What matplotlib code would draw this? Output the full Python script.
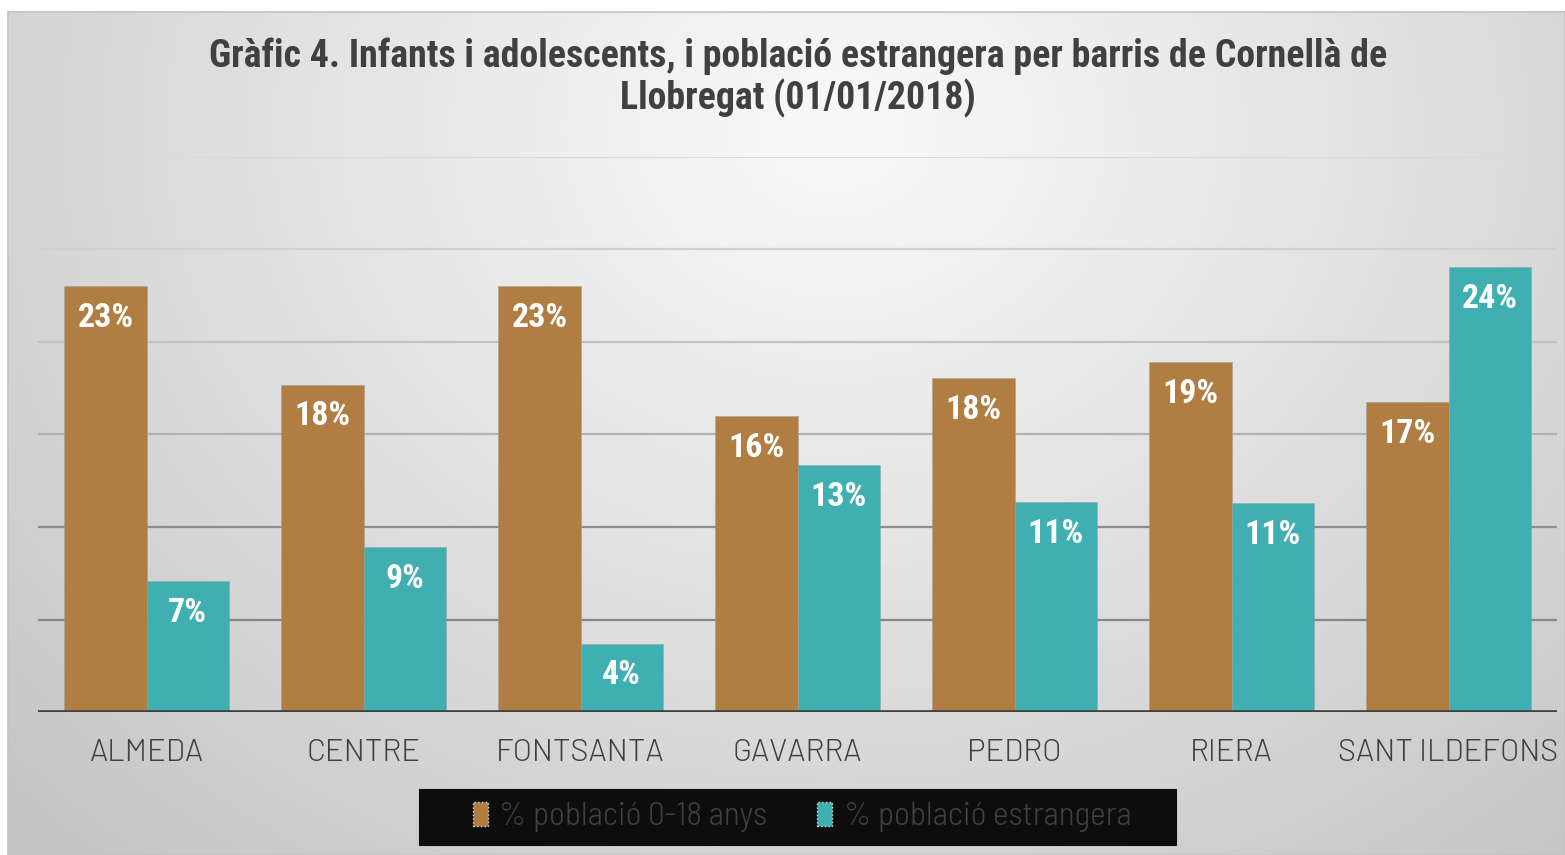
import numpy as np
import matplotlib
matplotlib.use("Agg")
import matplotlib.pyplot as plt
from matplotlib.patches import Rectangle

categories = ["ALMEDA", "CENTRE", "FONTSANTA", "GAVARRA", "PEDRO", "RIERA", "SANT ILDEFONS"]
pct_0_18 = [23.0, 17.7, 23.0, 16.0, 18.05, 18.9, 16.75]
pct_estrangera = [7.1, 8.9, 3.7, 13.35, 11.35, 11.3, 24.05]
labels_0_18 = ["23%", "18%", "23%", "16%", "18%", "19%", "17%"]
labels_estr = ["7%", "9%", "4%", "13%", "11%", "11%", "24%"]
series_names = ["% població 0-18 anys", "% població estrangera"]
title = "Gràfic 4. Infants i adolescents, i població estrangera per barris de Cornellà de\nLlobregat (01/01/2018)"

FONT_B = ["Roboto Condensed", "Archivo Narrow", "PT Sans Narrow", "DejaVu Sans"]
FONT_T = ["Barlow", "Barlow Semi Condensed", "Roboto Condensed", "DejaVu Sans"]
FONT_L = ["Barlow Semi Condensed", "Barlow", "Roboto Condensed", "DejaVu Sans"]
C_OR = "#B07E42"
C_TE = "#3FAFB1"
W, H = 1565, 855

fig = plt.figure(figsize=(W / 100, H / 100), dpi=100)
fig.patch.set_facecolor("white")

# background radial gradient panel
bg = fig.add_axes([0, 0, 1, 1], zorder=-5)
bg.set_xlim(0, W)
bg.set_ylim(H, 0)
bg.axis("off")
yy, xx = np.mgrid[0:H, 0:W]
cx, cy = 830, 120
r = np.sqrt(((xx - cx) / 1.0) ** 2 + ((yy - cy) / 0.85) ** 2)
r = r / r.max()
val = 0.975 - 0.20 * np.clip(r / 0.95, 0, 1) ** 1.1
img = np.dstack([val, val, val])
bg.imshow(img, extent=(8, W, H, 12), aspect="auto", interpolation="bilinear")
bg.add_patch(Rectangle((8, 12), W - 8, H - 12, fill=False, ec="#c4c4c4", lw=1.2))
# legend background box
bg.add_patch(Rectangle((419, 789), 757, 56, facecolor="#0d0d0d", edgecolor="#0d0d0d", lw=0.8))

# main axes
left, right = 38 / W, 1557 / W
bottom, top = (H - 712) / H, (H - 157) / H
ax = fig.add_axes([left, bottom, right - left, top - bottom])
ax.patch.set_alpha(0)
ax.set_xlim(-0.5, len(categories) - 0.5)
ax.set_ylim(0, 30)

grid_cols = ["#868686", "#8e8e8e", "#b2b2b2", "#c2c2c2", "#d0d0d0", "#d9d9d9"]
for i, g in enumerate([5, 10, 15, 20, 25, 30]):
    ax.axhline(g, color=grid_cols[i], lw=1.6, zorder=1)

x = np.arange(len(categories))
bw = 0.378
b1 = ax.bar(x - bw / 2, pct_0_18, bw, color=C_OR, edgecolor="#9a9a9a", linewidth=0.7,
            linestyle=":", zorder=3)
b2 = ax.bar(x + bw / 2, pct_estrangera, bw, color=C_TE, edgecolor="#9a9a9a", linewidth=0.7,
            linestyle=":", zorder=3)
ax.axhline(0, color="#404040", lw=2.6, zorder=4)

for bars, labs in ((b1, labels_0_18), (b2, labels_estr)):
    for rect, lab in zip(bars, labs):
        ax.annotate(lab, (rect.get_x() + rect.get_width() / 2, rect.get_height()),
                    xytext=(0, -23), textcoords="offset points", ha="center", va="center",
                    color="white", fontsize=24.5, fontweight="bold", family=FONT_B, zorder=5)

ax.set_xticks(x)
ax.set_xticklabels(categories, family=FONT_T, fontsize=22.3, fontweight=300, color="#404040")
ax.tick_params(axis="x", length=0, pad=19.5)
ax.set_yticks([])
for s in ax.spines.values():
    s.set_visible(False)

fig.text(798 / W, 1 - 78 / H, title, ha="center", va="center", family=FONT_B,
         fontsize=27.3, fontweight="bold", color="#404040", linespacing=1.13)

# legend
leg = ax.legend([b1, b2], series_names, loc="center", bbox_to_anchor=(802 / W, 1 - 817 / H),
                bbox_transform=fig.transFigure, ncol=2, frameon=False,
                prop={"family": FONT_L, "size": 24, "weight": 300}, labelcolor="#404040",
                handlelength=0.45, handleheight=0.75, handletextpad=0.35, columnspacing=1.5,
                borderpad=0.3, borderaxespad=0)
for h in leg.legend_handles:
    h.set_edgecolor("#dddddd")
    h.set_linestyle(":")
    h.set_linewidth(1)

fig.savefig("out.png", dpi=100)
